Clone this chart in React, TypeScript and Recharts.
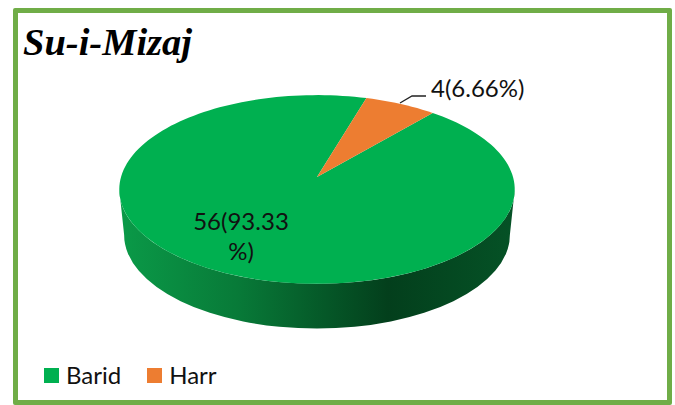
import { PieChart, Pie, Cell, Legend } from "recharts";

const names = ["Barid", "Harr"];
const counts = [56, 4];
const labelLines = [["56(93.33", "%)"], ["4(6.66%)"]];
const colors = ["#00b050", "#ed7d31"];
const data = names.map((name, i) => ({ name, value: counts[i] }));

// perspective of the tilted disc
const TILT = 0.473;
const K = -0.132;
const RAD = Math.PI / 180;
const font = "Lato, 'Open Sans', sans-serif";

const project = (cx: number, cy: number, r: number, angle: number) => {
  const u = Math.cos(angle * RAD);
  const v = -Math.sin(angle * RAD);
  const w = 1 + K * v;
  return [cx + (r * u) / w, cy + (r * TILT * v) / w];
};

const Slice = (props: any) => {
  const { cx, cy, outerRadius: r, startAngle, endAngle, fill, percent } = props;
  const steps = Math.ceil(Math.abs(endAngle - startAngle) / 2);
  const pts = [[cx, cy]];
  for (let i = 0; i <= steps; i++) {
    pts.push(project(cx, cy, r, startAngle + ((endAngle - startAngle) * i) / steps));
  }
  const d = "M" + pts.map((p) => p.join(",")).join("L") + "Z";

  // side wall only shows on the big slice, it covers the whole front
  const topRx = r * 1.0088;
  const topRy = r * 0.4815;
  const topY = cy + r * 0.0637;
  const botRx = r * 0.984;
  const botRy = r * 0.478;
  const botY = cy + r * 0.2955;
  const wall = `M${cx - topRx},${topY}L${cx - botRx},${botY}A${botRx},${botRy} 0 0 0 ${cx + botRx},${botY}L${cx + topRx},${topY}A${topRx},${topRy} 0 0 1 ${cx - topRx},${topY}Z`;

  return (
    <g>
      {percent > 0.5 && (
        <>
          <defs>
            <linearGradient id="wallShade" x1="0" y1="0" x2="1" y2="0">
              <stop offset="0" stopColor="#0a9a48" />
              <stop offset="0.3" stopColor="#087a38" />
              <stop offset="0.68" stopColor="#033f1c" />
              <stop offset="1" stopColor="#055226" />
            </linearGradient>
          </defs>
          <path d={wall} fill="url(#wallShade)" />
        </>
      )}
      <path d={d} fill={fill} />
    </g>
  );
};

const SliceLabel = (props: any) => {
  const { cx, cy, index } = props;
  const lines = labelLines[index];
  if (index === 1) {
    return (
      <g>
        <polyline points={`${cx + 83},${cy - 74} ${cx + 95},${cy - 81} ${cx + 109},${cy - 81}`} fill="none" stroke="#222" strokeWidth={1.3} />
        <text x={cx + 114} y={cy - 80} fontFamily={font} fontSize={24} fill="#111">
          {lines[0]}
        </text>
      </g>
    );
  }
  return (
    <text fontFamily={font} fontSize={24} fill="#111" textAnchor="middle">
      {lines.map((line, i) => (
        <tspan key={line} x={cx - 76} y={cy + 53 + i * 30}>
          {line}
        </tspan>
      ))}
    </text>
  );
};

const LegendRow = ({ payload }: any) => (
  <div style={{ display: "flex", fontFamily: font, fontSize: 24, color: "#111", lineHeight: "24px" }}>
    {(payload || []).map((p: any) => (
      <div key={p.value} style={{ display: "flex", alignItems: "center", marginRight: 26 }}>
        <span style={{ width: 15, height: 15, background: p.color, marginRight: 7 }} />
        {p.value}
      </div>
    ))}
  </div>
);

export default function App() {
  return (
    <div style={{ position: "fixed", left: 0, top: 0, width: 675, height: 405, background: "#fff", overflow: "hidden" }}>
      <div style={{ position: "absolute", left: 13, top: 8, width: 659, height: 397, boxSizing: "border-box", border: "5px solid #70ad47", borderRadius: 2 }} />
      <div style={{ position: "absolute", left: 23, top: 19, fontFamily: "'Liberation Serif', serif", fontWeight: 700, fontStyle: "italic", fontSize: 38.5, lineHeight: "46px", color: "#000" }}>
        Su-i-Mizaj
      </div>
      <PieChart width={675} height={405} margin={{ top: 0, right: 0, bottom: 0, left: 0 }} style={{ position: "absolute", left: 0, top: 0 }}>
        <Pie
          data={data}
          dataKey="value"
          nameKey="name"
          cx={317}
          cy={177}
          outerRadius={196}
          startAngle={49.5}
          endAngle={-310.5}
          stroke="none"
          shape={Slice}
          label={SliceLabel}
          labelLine={false}
          isAnimationActive={false}
        >
          {data.map((d, i) => (
            <Cell key={d.name} fill={colors[i]} />
          ))}
        </Pie>
        <Legend content={<LegendRow />} wrapperStyle={{ position: "absolute", left: 44, top: 363, width: 300 }} />
      </PieChart>
    </div>
  );
}
